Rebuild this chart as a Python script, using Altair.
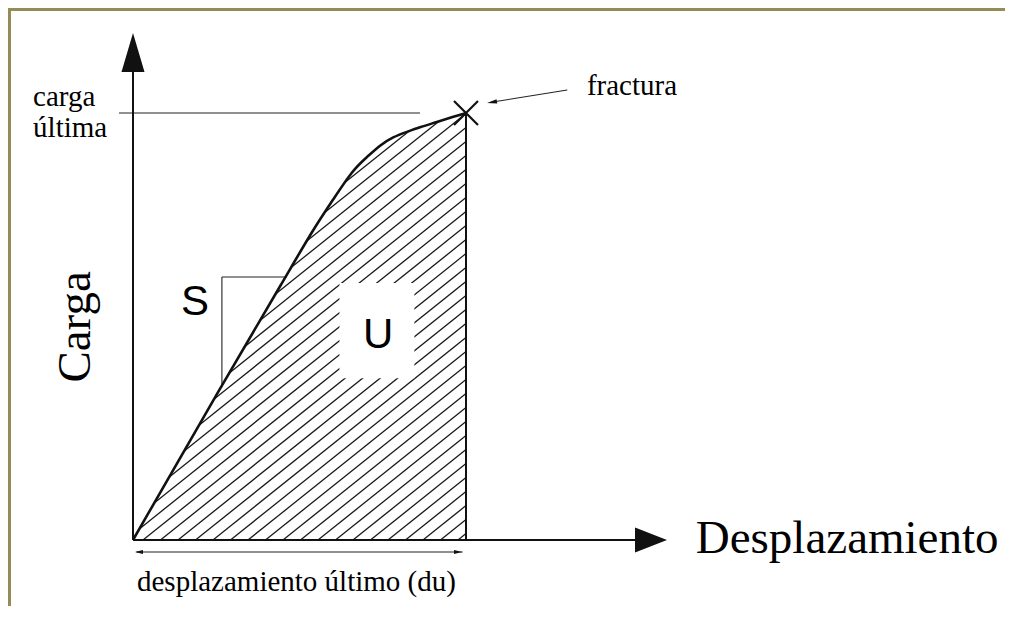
import altair as alt
import pandas as pd

# ---- values (displacement / load, du = 10, Pu = 10) ----
displacement = [0.0, 2.67, 4.62, 5.4, 6.0, 6.6, 7.03, 7.42, 7.81, 8.23, 8.62, 9.13, 9.61, 10.0]
load = [0.0, 3.63, 6.21, 7.26, 7.96, 8.67, 8.97, 9.25, 9.44, 9.56, 9.67, 9.79, 9.91, 10.0]
DU = 10.0   # desplazamiento último
PU = 10.0   # carga última

# ---- layout (view pixels) ----
W, H = 997, 598
PX_X, PX_Y = 33.3, 42.7
OX, OY = 125, 532
X_MIN = -OX / PX_X
X_MAX = (W - OX) / PX_X
Y_MAX = OY / PX_Y
Y_MIN = (OY - H) / PX_Y

xs = alt.Scale(domain=[X_MIN, X_MAX], nice=False, zero=False)
ys = alt.Scale(domain=[Y_MIN, Y_MAX], nice=False, zero=False)
X = lambda f="x": alt.X(f"{f}:Q", scale=xs, axis=None)
Y = lambda f="y": alt.Y(f"{f}:Q", scale=ys, axis=None)

INK = "#111111"

# ---- hatch of the area U (clipped to the region under the curve) ----
poly = list(zip(displacement, load)) + [(DU, 0.0)]
slope = 0.8 * PX_X / PX_Y
spacing = 17.5 / PX_X
phase = 10 / PX_X
segs = []
for k in range(-80, 80):
    x0 = phase + k * spacing
    pts = []
    n = len(poly)
    for i in range(n):
        (ax, ay), (bx, by) = poly[i], poly[(i + 1) % n]
        fa = ay - slope * (ax - x0)
        fb = by - slope * (bx - x0)
        if fa == fb:
            continue
        if (fa <= 0 <= fb) or (fb <= 0 <= fa):
            t = fa / (fa - fb)
            pts.append((ax + t * (bx - ax), ay + t * (by - ay)))
    if len(pts) >= 2:
        pts.sort()
        (x1, y1), (x2, y2) = pts[0], pts[-1]
        if x2 - x1 > 1e-6:
            segs.append(dict(x=x1, y=y1, x2=x2, y2=y2))
hatch_df = pd.DataFrame(segs)

hatch = alt.Chart(hatch_df).mark_rule(color="#1a1a1a", strokeWidth=1.3).encode(
    x=X(), y=Y(), x2="x2:Q", y2="y2:Q")

# white box behind "U"
ubox = alt.Chart(pd.DataFrame([dict(x=6.2, x2=8.45, y=3.79, y2=6.02)])).mark_rect(
    color="white").encode(x=X(), x2="x2:Q", y=Y(), y2="y2:Q")

curve_df = pd.DataFrame({"x": displacement, "y": load})
curve = alt.Chart(curve_df).mark_line(color=INK, strokeWidth=2.6, interpolate="basis").encode(
    x=X(), y=Y(), order="x:Q")

# thick lines: axes and right edge of the area
thick_df = pd.DataFrame([
    dict(x=0, y=0, x2=15.3, y2=0),          # x axis
    dict(x=0, y=0, x2=0, y2=11.0),          # y axis
    dict(x=DU, y=0, x2=DU, y2=PU),          # du edge
])
thick = alt.Chart(thick_df).mark_rule(color=INK, strokeWidth=2).encode(
    x=X(), y=Y(), x2="x2:Q", y2="y2:Q")

# thin lines: carga última, S triangle, dimension line, fractura leader
thin_df = pd.DataFrame([
    dict(x=-0.42, y=PU, x2=8.62, y2=PU),
    dict(x=2.67, y=3.58, x2=2.67, y2=6.16),
    dict(x=2.67, y=6.16, x2=4.62, y2=6.16),
    dict(x=0.1, y=-0.28, x2=9.9, y2=-0.28),
    dict(x=13.04, y=10.54, x2=10.75, y2=10.25),
])
thin = alt.Chart(thin_df).mark_rule(color="#222222", strokeWidth=1.1).encode(
    x=X(), y=Y(), x2="x2:Q", y2="y2:Q")

# arrow heads
arrows_df = pd.DataFrame([
    dict(x=0, y=11.417, angle=270, size=1521, shape="M1,0L-1,-0.59L-1,0.59Z"),
    dict(x=15.556, y=0, angle=0, size=1024, shape="M1,0L-1,-0.78L-1,0.78Z"),
    dict(x=0.18, y=-0.28, angle=180, size=64, shape="M1,0L-1,-0.5L-1,0.5Z"),
    dict(x=9.76, y=-0.28, angle=0, size=64, shape="M1,0L-1,-0.5L-1,0.5Z"),
    dict(x=10.78, y=10.253, angle=170.8, size=100, shape="M1,0L-1,-0.45L-1,0.45Z"),
])
arrows = alt.Chart(arrows_df).mark_point(filled=True, color=INK, opacity=1, strokeWidth=0).encode(
    x=X(), y=Y(),
    angle=alt.Angle("angle:Q", scale=None),
    size=alt.Size("size:Q", scale=None),
    shape=alt.Shape("shape:N", scale=None))

# fracture cross
cross = alt.Chart(pd.DataFrame([dict(x=DU, y=PU)])).mark_point(
    shape="M-1,-1L1,1M1,-1L-1,1", filled=False, size=576, strokeWidth=2.2,
    color=INK, opacity=1).encode(x=X(), y=Y())

# frame (left and top edges)
frame_df = pd.DataFrame([
    dict(x=-3.724, y=Y_MIN, x2=-3.724, y2=Y_MAX),
    dict(x=X_MIN, y=12.436, x2=X_MAX, y2=12.436),
])
frame = alt.Chart(frame_df).mark_rule(color="#948B56", strokeWidth=4).encode(
    x=X(), y=Y(), x2="x2:Q", y2="y2:Q")

# serif labels (left aligned, alphabetic baseline)
serif_df = pd.DataFrame([
    dict(text="carga", x=-3.0, y=10.16, fs=29),
    dict(text="última", x=-3.0, y=9.44, fs=29),
    dict(text="fractura", x=13.63, y=10.42, fs=29),
    dict(text="desplazamiento último (du)", x=0.12, y=-1.19, fs=29),
    dict(text="Desplazamiento", x=16.9, y=-0.3, fs=47),
])
serif = alt.Chart(serif_df).mark_text(
    align="left", baseline="alphabetic", font="Liberation Serif", color="black").encode(
    x=X(), y=Y(), text="text:N", size=alt.Size("fs:Q", scale=None))

carga = alt.Chart(pd.DataFrame([dict(text="Carga", x=-1.29, y=4.99)])).mark_text(
    align="center", baseline="alphabetic", angle=270, font="Liberation Serif",
    fontSize=47, color="black").encode(x=X(), y=Y(), text="text:N")

sans_df = pd.DataFrame([
    dict(text="S", x=1.86, y=5.57),
    dict(text="U", x=7.36, y=4.8),
])
sans = alt.Chart(sans_df).mark_text(
    align="center", baseline="middle", font="Liberation Sans", fontSize=42,
    color="black").encode(x=X(), y=Y(), text="text:N")

chart = alt.layer(
    frame, hatch, ubox, thin, thick, curve, arrows, cross, serif, carga, sans
).properties(
    width=W, height=H, padding=0, background="white",
    autosize=alt.AutoSizeParams(type="none"),
).configure_view(stroke=None)

chart.save("out.html", embed_options={"renderer": "svg", "actions": False})
